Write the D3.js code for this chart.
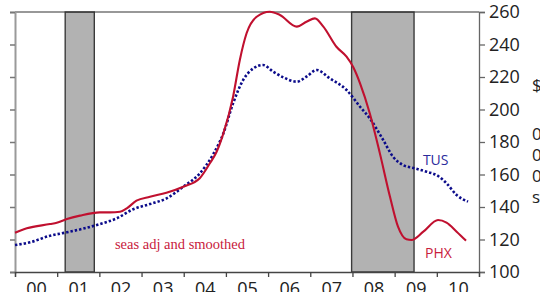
<!DOCTYPE html>
<html>
<head>
<meta charset="utf-8">
<script src="https://cdn.jsdelivr.net/npm/d3@7"></script>
<style>
  body { margin: 0; background: #fff; }
  svg { display: block; }
</style>
</head>
<body>
<div id="chart"></div>
<script>
// Home prices, $000s, seas adj and smoothed
var phxYears = [2000.0, 2000.28, 2000.83, 2000.99, 2001.23, 2001.54, 2002.01, 2002.25, 2002.49, 2002.65,
                2002.88, 2003.20, 2003.59, 2003.99, 2004.38, 2004.62, 2004.78, 2004.94, 2005.17, 2005.33,
                2005.49, 2005.73, 2006.04, 2006.28, 2006.68, 2006.91, 2007.11, 2007.31, 2007.62, 2007.86,
                2008.02, 2008.18, 2008.41, 2008.65, 2008.89, 2009.08, 2009.28, 2009.40, 2009.68, 2010.03,
                2010.23, 2010.47, 2010.69];
var phxValues = [124.2, 126.9, 129.5, 130.3, 132.6, 134.7, 136.7, 136.7, 137.1, 139.2,
                 143.9, 146.3, 148.8, 152.5, 157.7, 166.9, 174, 185.3, 207.9, 230.5,
                 246.9, 257.1, 260.2, 258.2, 251, 254, 256.1, 251, 238.6, 232.5,
                 226, 216.1, 197.7, 173, 146.3, 127.9, 120.1, 119.7, 124.8, 132,
                 130.4, 124.8, 119.3];

var tusYears = [2000.0, 2000.36, 2000.83, 2001.23, 2001.62, 2002.01, 2002.41, 2002.80, 2003.20, 2003.59,
                2003.99, 2004.38, 2004.70, 2004.94, 2005.17, 2005.41, 2005.65, 2005.88, 2006.12, 2006.36,
                2006.68, 2006.91, 2007.15, 2007.46, 2007.86, 2008.18, 2008.41, 2008.73, 2008.96, 2009.20,
                2009.48, 2009.76, 2010.03, 2010.23, 2010.47, 2010.74];
var tusValues = [116.6, 118.3, 122.3, 124.4, 126.7, 129.5, 133, 138.6, 141.8, 145.3,
                 152.5, 160.7, 172.5, 185.3, 203.8, 218.2, 225.3, 227.4, 223.3, 219.8,
                 217.1, 220.2, 224.3, 219.2, 212, 201.7, 194.6, 181.2, 171, 165.8,
                 163.8, 161.7, 159.1, 154.6, 147.4, 143.3];

var recessionStart = [2001.19, 2007.98];
var recessionEnd = [2001.88, 2009.46];

var yearLabels = ["00", "01", "02", "03", "04", "05", "06", "07", "08", "09", "10"];
var yTicks = [100, 120, 140, 160, 180, 200, 220, 240, 260];
var unitLines = ["$", "0", "0", "0", "s"];

var margin = {top: 12, right: 61, bottom: 20, left: 15};
var width = 540 - margin.left - margin.right;
var height = 292 - margin.top - margin.bottom;

var svg = d3.select("#chart")
    .append("svg")
    .attr("width", 540)
    .attr("height", 292)
    .append("g")
    .attr("transform", "translate(" + margin.left + "," + margin.top + ")");

var x = d3.scaleLinear().domain([2000, 2011]).range([0, width]);
var y = d3.scaleLinear().domain([100, 260]).range([height, 0]);

// recession bands
svg.selectAll(".band")
    .data(recessionStart)
    .enter()
    .append("rect")
    .attr("class", "band")
    .attr("x", function(d){ return x(d); })
    .attr("y", 0)
    .attr("width", function(d, i){ return x(recessionEnd[i]) - x(d); })
    .attr("height", height)
    .attr("fill", "#b2b2b2")
    .attr("stroke", "#3a3a3a")
    .attr("stroke-width", 1.4);

// top border
svg.append("line")
    .attr("x1", 0).attr("x2", width)
    .attr("y1", 0).attr("y2", 0)
    .attr("stroke", "#333")
    .attr("stroke-width", 1.2);

// left axis, ticks only
var leftAxis = svg.append("g")
    .call(d3.axisLeft(y).tickValues(yTicks).tickSize(5).tickFormat(""));
leftAxis.select(".domain").attr("stroke", "#9a9a9a").attr("stroke-width", 2);
leftAxis.selectAll(".tick line").attr("stroke", "#777").attr("stroke-width", 1.5);

// right axis with labels
var rightAxis = svg.append("g")
    .attr("transform", "translate(" + width + ",0)")
    .call(d3.axisRight(y).tickValues(yTicks).tickSize(6).tickPadding(4));
rightAxis.select(".domain").attr("stroke", "#666").attr("stroke-width", 1.3);
rightAxis.selectAll(".tick line").attr("stroke", "#666").attr("stroke-width", 1.3);
rightAxis.selectAll("text")
    .attr("font-family", "'Open Sans', 'Noto Sans', sans-serif")
    .attr("font-size", "18px")
    .attr("fill", "#222");

// bottom axis: year boundaries
var bottomAxis = svg.append("g")
    .attr("transform", "translate(0," + height + ")")
    .call(d3.axisBottom(x).tickValues(d3.range(2000, 2012)).tickSize(5).tickFormat(""));
bottomAxis.select(".domain").attr("stroke", "#444").attr("stroke-width", 1.3);
bottomAxis.selectAll(".tick line").attr("stroke", "#444").attr("stroke-width", 1.3);

// year labels centered in each year
var labelAxis = svg.append("g")
    .attr("transform", "translate(0," + height + ")")
    .call(d3.axisBottom(x)
        .tickValues(yearLabels.map(function(d, i){ return 2000.5 + i; }))
        .tickSize(0).tickPadding(10)
        .tickFormat(function(d, i){ return yearLabels[i]; }));
labelAxis.select(".domain").remove();
labelAxis.selectAll("text")
    .attr("font-family", "'Open Sans', 'Noto Sans', sans-serif")
    .attr("font-size", "18px")
    .attr("fill", "#222");

// series
var phxLine = d3.line()
    .x(function(d, i){ return x(phxYears[i]); })
    .y(function(d){ return y(d); })
    .curve(d3.curveMonotoneX);

var tusLine = d3.line()
    .x(function(d, i){ return x(tusYears[i]); })
    .y(function(d){ return y(d); })
    .curve(d3.curveMonotoneX);

svg.append("path")
    .datum(tusValues)
    .attr("d", tusLine)
    .attr("fill", "none")
    .attr("stroke", "#0b0b8a")
    .attr("stroke-width", 2.6)
    .attr("stroke-dasharray", "2.4,2");

svg.append("path")
    .datum(phxValues)
    .attr("d", phxLine)
    .attr("fill", "none")
    .attr("stroke", "#c0102f")
    .attr("stroke-width", 2.1);

// labels
svg.append("text")
    .attr("x", x(2009.67))
    .attr("y", y(165.8))
    .attr("font-family", "'Open Sans', 'Noto Sans', sans-serif")
    .attr("font-size", "14px")
    .attr("fill", "#2b2b9c")
    .text("TUS");

svg.append("text")
    .attr("x", x(2009.72))
    .attr("y", y(108.6))
    .attr("font-family", "'Open Sans', 'Noto Sans', sans-serif")
    .attr("font-size", "14px")
    .attr("fill", "#c8203c")
    .text("PHX");

svg.append("text")
    .attr("x", x(2002.37))
    .attr("y", y(114.3))
    .attr("font-family", "'Liberation Serif', 'Times New Roman', serif")
    .attr("font-size", "14.5px")
    .attr("fill", "#c8203c")
    .text("seas adj and smoothed");

// unit label, stacked ($ then a gap, then 000s)
var unit = svg.append("text")
    .attr("font-family", "'Open Sans', 'Noto Sans', sans-serif")
    .attr("font-size", "17px")
    .attr("fill", "#222");
unit.selectAll("tspan")
    .data(unitLines)
    .enter()
    .append("tspan")
    .attr("x", width + 53)
    .attr("y", function(d, i){ return i === 0 ? 79 : 128 + (i - 1) * 21; })
    .text(function(d){ return d; });
</script>
</body>
</html>
